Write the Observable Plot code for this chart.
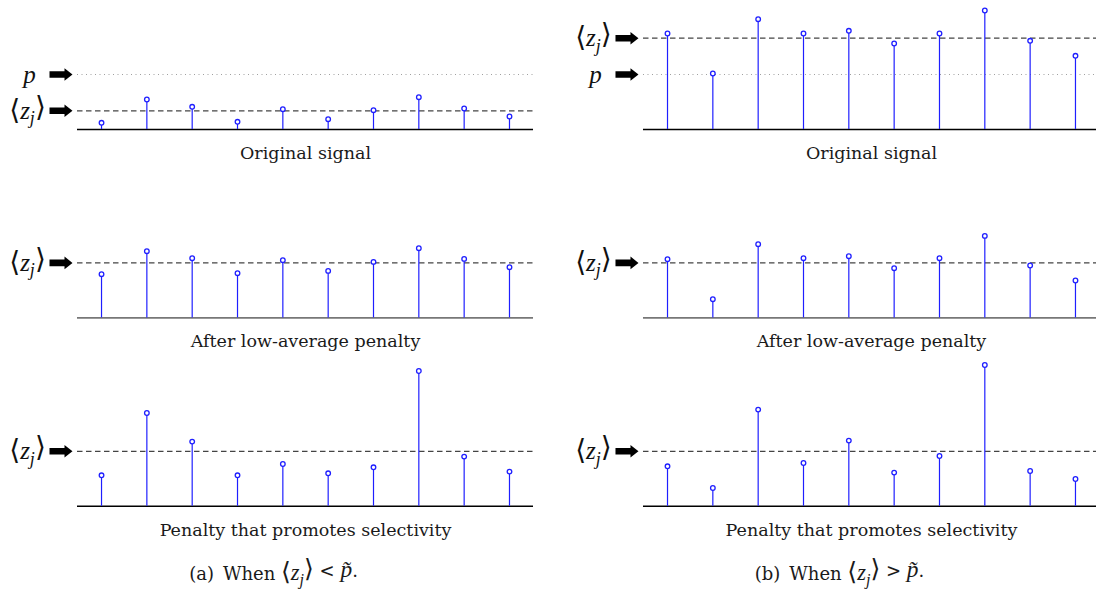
<!DOCTYPE html>
<html>
<head>
<meta charset="utf-8">
<script src="https://cdn.jsdelivr.net/npm/d3@7"></script>
<script src="https://cdn.jsdelivr.net/npm/@observablehq/plot@0.6"></script>
<style>
  html, body { margin: 0; padding: 0; background: #fff; }
  #chart { width: 1096px; height: 589px; }
</style>
</head>
<body>
<div id="chart"></div>
<script>
// ---- data (arbitrary units) ----
const index = [1, 2, 3, 4, 5, 6, 7, 8, 9, 10];
const columns = ["a", "b"];
const rows = [1, 2, 3];
const rowTitles = ["Original signal", "After low-average penalty", "Penalty that promotes selectivity"];
const captions = ["(a)\u2002When ⟨zj⟩ < p̃.", "(b)\u2002When ⟨zj⟩ > p̃."];

const originalA = [6.7, 30, 22.7, 7.7, 20.3, 10.3, 19.3, 32.3, 21, 13];
const lowAverageA = [43.7, 66.7, 59.7, 44.7, 57.7, 47, 56, 69.7, 59, 50.7];
const selectiveA = [31, 93.3, 64.7, 31, 42.3, 33, 39, 135.3, 49.7, 34.7];
const originalB = [96, 56, 110.3, 96, 98.7, 86, 96, 119, 88.7, 73.7];
const lowAverageB = [58.7, 18.7, 73.7, 59.7, 61.7, 49.7, 59.7, 82, 52.4, 37.4];
const selectiveB = [40, 18.3, 96.7, 43.3, 65.7, 33.7, 50.3, 141.3, 35.3, 27.3];

const meanLevelA = [18.7, 55, 55];   // <z_j> per row, column (a)
const meanLevelB = [91.3, 55, 55];   // <z_j> per row, column (b)
const pLevel = 55;                   // p, shown in the first row only

// ---- tables built from the arrays ----
const series = {a: [originalA, lowAverageA, selectiveA], b: [originalB, lowAverageB, selectiveB]};
const stems = [];
for (const col of columns) rows.forEach((row, r) => index.forEach((i, k) => stems.push({col, row, i, v: series[col][r][k]})));

const levels = [];
for (const col of columns) rows.forEach((row, r) => levels.push({col, row, zj: (col === "a" ? meanLevelA : meanLevelB)[r]}));

const pLabels = columns.map(col => ({col, row: 1, y: pLevel, text: "p"}));
const zLabels = levels.map(d => ({col: d.col, row: d.row, y: d.zj, text: "⟨zj⟩"}));
const arrows = [...pLabels, ...zLabels];

const titles = [];
for (const col of columns) rows.forEach((row, r) => titles.push({col, row, text: rowTitles[r]}));
const caps = columns.map((col, c) => ({col, row: 3, text: captions[c]}));

const arrowSymbol = {
  draw(ctx) {
    ctx.moveTo(-11.5, -3.3); ctx.lineTo(3.5, -3.3); ctx.lineTo(3.5, -6.3);
    ctx.lineTo(11.5, 0); ctx.lineTo(3.5, 6.3); ctx.lineTo(3.5, 3.3);
    ctx.lineTo(-11.5, 3.3); ctx.closePath();
  }
};

const blue = "#1f1fff";
const serif = "'DejaVu Serif', 'Liberation Serif', serif";
const mathSerif = "'Liberation Serif', 'DejaVu Serif', serif";

const chart = Plot.plot({
  width: 1096,
  height: 589,
  marginLeft: 77,
  marginRight: -3,
  marginTop: 4,
  marginBottom: 83.2,
  x: {domain: [0.47, 10.53], axis: null},
  y: {domain: [0, 125], axis: null},
  fx: {domain: columns, paddingInner: 0.1943, paddingOuter: 0, round: false, axis: null},
  fy: {domain: rows, paddingInner: 0.3365, paddingOuter: 0, round: false, axis: null},
  style: {fontFamily: serif, background: "white", overflow: "visible"},
  marks: [
    Plot.ruleY(levels.filter(d => d.row === 1), {y: () => pLevel, fx: "col", fy: "row", stroke: "#a0a0a0", strokeWidth: 1, strokeDasharray: "1,3.5"}),
    Plot.ruleY(levels, {y: "zj", fx: "col", fy: "row", stroke: "#444", strokeWidth: 1.3, strokeDasharray: "5.5,3.5"}),
    Plot.ruleY(levels.filter(d => d.row !== 2), {y: () => 0, fx: "col", fy: "row", stroke: "#000", strokeWidth: 1.4}),
    Plot.ruleY(levels.filter(d => d.row === 2), {y: () => 0, fx: "col", fy: "row", stroke: "#777", strokeWidth: 1.8}),
    Plot.ruleX(stems, {x: "i", y1: () => 0, y2: "v", fx: "col", fy: "row", stroke: blue, strokeWidth: 1.2}),
    Plot.dot(stems, {x: "i", y: "v", fx: "col", fy: "row", r: 2.3, stroke: blue, strokeWidth: 1.3, fill: "white"}),
    Plot.dot(arrows, {y: "y", fx: "col", fy: "row", frameAnchor: "left", dx: -16.5, symbol: arrowSymbol, fill: "black", stroke: "none"}),
    Plot.text(pLabels, {y: "y", fx: "col", fy: "row", text: "text", frameAnchor: "left", dx: -48, textAnchor: "middle", fontSize: 25, fontStyle: "italic", fontFamily: mathSerif, fill: "#111"}),
    Plot.text(zLabels, {y: "y", fx: "col", fy: "row", text: "text", frameAnchor: "left", dx: -50, textAnchor: "middle", fontSize: 25, fontFamily: mathSerif, fill: "#111"}),
    Plot.text(titles, {fx: "col", fy: "row", text: "text", frameAnchor: "bottom", dy: 29.5, fontSize: 17.5, fill: "#1a1a1a"}),
    Plot.text(caps, {fx: "col", fy: "row", text: "text", frameAnchor: "bottom", dy: 73.5, dx: -32, fontSize: 18, fill: "#1a1a1a"})
  ]
});

// render <z_j> with an italic z and a subscript j, and an italic p with tilde
function richText(el) {
  const t = el.textContent;
  if (!t.includes("⟨zj⟩")) return;
  const NS = "http://www.w3.org/2000/svg";
  const [pre, post] = t.split("⟨zj⟩");
  el.textContent = "";
  const span = (txt, attrs = {}) => {
    const s = document.createElementNS(NS, "tspan");
    for (const k in attrs) s.setAttribute(k, attrs[k]);
    s.textContent = txt;
    el.appendChild(s);
  };
  const m = "'Liberation Serif', serif";
  const k = pre ? 1.25 : 1;
  if (pre) span(pre);
  span("⟨", {"font-family": "'DejaVu Serif', serif", "font-size": (1.12 * k) + "em"});
  span("z", {"font-style": "italic", "font-family": m, "font-size": k + "em"});
  span("j", {"font-style": "italic", "font-family": m, "font-size": (0.72 * k) + "em", dy: "0.3em"});
  span("⟩", {dy: "-0.3em", "font-family": "'DejaVu Serif', serif", "font-size": (1.12 * k) + "em"});
  if (post) {
    const parts = post.split("p̃");
    span(parts[0]);
    span("p̃", {"font-style": "italic", "font-family": m, "font-size": "1.3em"});
    span(parts[1]);
  }
}
chart.querySelectorAll("text").forEach(richText);

document.getElementById("chart").appendChild(chart);
</script>
</body>
</html>
